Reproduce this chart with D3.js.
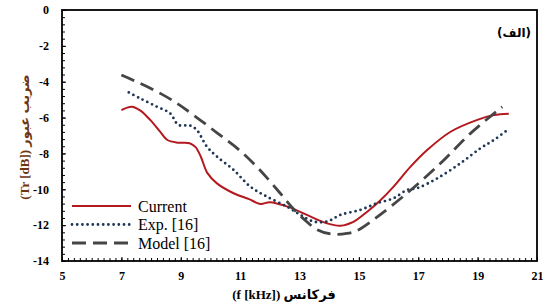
<!DOCTYPE html>
<html>
<head>
<meta charset="utf-8">
<script src="https://cdn.jsdelivr.net/npm/d3@7"></script>
<style>
  body { margin: 0; background: #fff; }
  svg { display: block; }
</style>
</head>
<body>
<div id="chart"></div>
<script>
const WIDTH = 546;
const HEIGHT = 306;
const MARGINS = { left: 62, right: 9, top: 10, bottom: 45 };
const VIS_WIDTH = WIDTH - MARGINS.left - MARGINS.right;
const VIS_HEIGHT = HEIGHT - MARGINS.top - MARGINS.bottom;

// series: [f (kHz), Tr (dB)]
const current = [
  [7.0, -5.58], [7.35, -5.39], [7.63, -5.6], [7.97, -6.13], [8.31, -6.8],
  [8.55, -7.25], [8.9, -7.4], [9.3, -7.43], [9.5, -7.65], [9.68, -8.2],
  [9.9, -9.1], [10.22, -9.67], [10.78, -10.22], [11.3, -10.55], [11.68, -10.82],
  [12.0, -10.72], [12.6, -10.97], [13.25, -11.43], [13.93, -11.9], [14.38, -12.03],
  [14.83, -11.8], [15.28, -11.25], [15.7, -10.65], [16.17, -9.85], [16.74, -8.74],
  [17.3, -7.81], [18.09, -6.79], [18.99, -6.13], [19.55, -5.86], [20.05, -5.78]
];
const exp16 = [
  [7.25, -4.6], [7.63, -4.93], [8.19, -5.39], [8.64, -5.76], [8.92, -6.41],
  [9.32, -6.45], [9.54, -6.69], [9.88, -7.62], [10.22, -8.18], [10.78, -8.92],
  [11.34, -9.85], [11.9, -10.41], [12.58, -10.97], [13.03, -11.43], [13.48, -11.8],
  [13.93, -11.8], [14.38, -11.43], [15.05, -11.15], [15.61, -10.78], [16.17, -10.5],
  [16.62, -10.04], [16.96, -9.94], [17.64, -9.39], [18.42, -8.55], [19.1, -7.71],
  [19.55, -7.25], [20.0, -6.7]
];
const model16 = [
  [7.0, -3.63], [7.63, -4.09], [8.31, -4.65], [8.87, -5.2], [9.43, -5.86],
  [10.22, -6.85], [11.0, -7.85], [11.68, -8.95], [12.35, -10.22], [12.8, -11.1],
  [13.14, -11.65], [13.59, -12.25], [14.1, -12.5], [14.6, -12.46], [14.94, -12.3],
  [15.61, -11.55], [16.62, -10.22], [17.75, -8.55], [18.76, -6.88], [19.83, -5.4]
];

const xTicks = [5, 7, 9, 11, 13, 15, 17, 19, 21];
const yTicks = [0, -2, -4, -6, -8, -10, -12, -14];
const legendNames = ["Current", "Exp. [16]", "Model [16]"];

const X_SCALE = d3.scaleLinear().domain([5, 21]).range([0, VIS_WIDTH]);
const Y_SCALE = d3.scaleLinear().domain([-14, 0]).range([VIS_HEIGHT, 0]);

const svg = d3.select("#chart").append("svg")
  .attr("width", WIDTH).attr("height", HEIGHT);

const g = svg.append("g")
  .attr("transform", "translate(" + MARGINS.left + "," + MARGINS.top + ")");

// minor ticks, pointing inward
g.append("g")
  .attr("transform", "translate(0," + VIS_HEIGHT + ")")
  .call(d3.axisBottom(X_SCALE).tickValues(d3.range(5, 21.01, 0.2)).tickSize(-3).tickFormat(""))
  .call(a => a.select(".domain").remove());
g.append("g")
  .call(d3.axisLeft(Y_SCALE).tickValues(d3.range(-14, 0.01, 0.4)).tickSize(-3).tickFormat(""))
  .call(a => a.select(".domain").remove());

// labelled axes
g.append("g")
  .attr("transform", "translate(0," + VIS_HEIGHT + ")")
  .call(d3.axisBottom(X_SCALE).tickValues(xTicks).tickSize(-4).tickPadding(10).tickFormat(d => String(d)))
  .attr("font-family", "Liberation Serif, serif")
  .attr("font-weight", "bold")
  .attr("font-size", 12)
  .call(a => a.select(".domain").remove());
g.append("g")
  .call(d3.axisLeft(Y_SCALE).tickValues(yTicks).tickSize(-4).tickPadding(13).tickFormat(d => String(d)))
  .attr("font-family", "Liberation Serif, serif")
  .attr("font-weight", "bold")
  .attr("font-size", 12)
  .call(a => a.select(".domain").remove());

// frame
g.append("rect")
  .attr("width", VIS_WIDTH).attr("height", VIS_HEIGHT)
  .attr("fill", "none").attr("stroke", "#000").attr("stroke-width", 1.8);

const line = d3.line()
  .x(d => X_SCALE(d[0]))
  .y(d => Y_SCALE(d[1]))
  .curve(d3.curveCatmullRom.alpha(0.5));

const styles = [
  { color: "#b3191f", width: 2, dash: null, cap: "butt" },
  { color: "#1f3656", width: 2.8, dash: "0,5.2", cap: "round" },
  { color: "#454545", width: 2.8, dash: "14,7", cap: "butt" }
];

[current, exp16, model16].forEach((s, i) => {
  g.append("path")
    .datum(s)
    .attr("d", line)
    .attr("fill", "none")
    .attr("stroke", styles[i].color)
    .attr("stroke-width", styles[i].width)
    .attr("stroke-dasharray", styles[i].dash)
    .attr("stroke-linecap", styles[i].cap);
});

// legend
const legend = svg.append("g");
legendNames.forEach((name, i) => {
  const y = 206 + i * 18.5;
  legend.append("line")
    .attr("x1", 72).attr("x2", 131).attr("y1", y).attr("y2", y)
    .attr("stroke", styles[i].color)
    .attr("stroke-width", styles[i].width)
    .attr("stroke-dasharray", styles[i].dash)
    .attr("stroke-linecap", styles[i].cap);
  legend.append("text")
    .attr("x", 138).attr("y", y + 5.5)
    .attr("font-family", "Liberation Serif, serif")
    .attr("font-size", 16)
    .text(name);
});

// panel label
svg.append("text")
  .attr("x", 531).attr("y", 37)
  .attr("text-anchor", "start")
  .attr("direction", "rtl")
  .attr("font-family", "DejaVu Sans, sans-serif")
  .attr("font-weight", "bold")
  .attr("font-size", 12)
  .text("(الف)");

// axis titles
svg.append("text")
  .attr("x", 284).attr("y", 299)
  .attr("text-anchor", "middle")
  .attr("direction", "rtl")
  .attr("font-family", "Liberation Serif, DejaVu Sans, serif")
  .attr("font-weight", "bold")
  .attr("font-size", 13)
  .text("فرکانس (f [kHz])");

svg.append("text")
  .attr("transform", "translate(29,137) rotate(-90)")
  .attr("text-anchor", "middle")
  .attr("direction", "rtl")
  .attr("fill", "#6e3510")
  .attr("font-family", "Liberation Serif, DejaVu Sans, serif")
  .attr("font-weight", "bold")
  .attr("font-size", 13)
  .text("ضریب عبور (Tr [dB])");
</script>
</body>
</html>
